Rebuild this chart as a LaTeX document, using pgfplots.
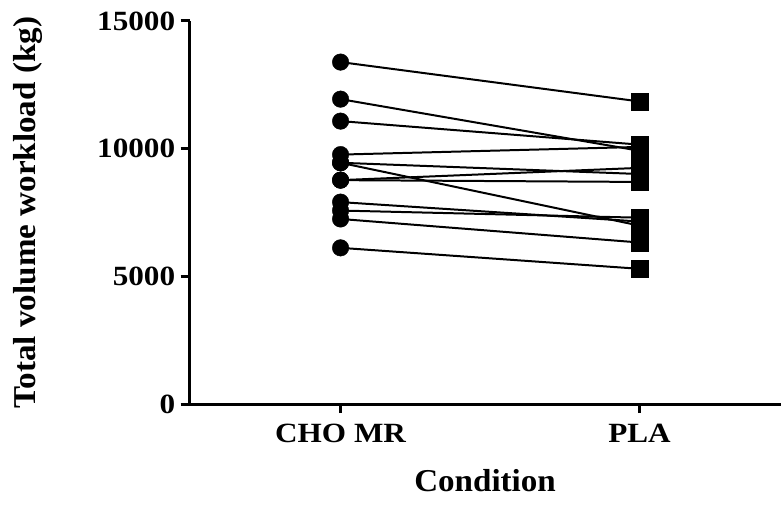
\documentclass[border=0pt]{standalone}
\usepackage{pgfplots}
\pgfplotsset{compat=1.18}
\usepackage{pgfplotstable}
\usepackage{fontspec}
\setmainfont{Liberation Serif}
\newfontfamily\tickfont{Liberation Serif}[FakeStretch=1.12]
\newfontfamily\labelfont{Liberation Serif}[FakeStretch=1.04]

% total volume workload (kg), one row per subject
\pgfplotstableread{
cho    pla
13390  11850
11940  9920
11080  10160
9770   10070
9450   9010
9450   6990
8770   9250
8770   8700
7910   7150
7580   7300
7250   6330
6120   5300
}\workload

\begin{document}
\begin{tikzpicture}
  \begin{axis}[
      scale only axis,
      width=592bp,
      height=384bp,
      xmin=-0.505, xmax=1.472,
      ymin=0, ymax=15000,
      axis x line*=bottom,
      axis y line*=left,
      axis line style={line width=3bp, -},
      tick style={line width=3bp, black},
      tick align=outside,
      major tick length=9bp,
      xtick={0,1},
      xticklabels={CHO MR, PLA},
      ytick={0,5000,10000,15000},
      scaled y ticks=false,
      /pgf/number format/1000 sep={},
      /pgf/number format/assume math mode=true,
      ticklabel style={font=\tickfont\fontsize{28}{30}\selectfont\bfseries},
      xticklabel style={yshift=-7bp},
      yticklabel style={xshift=-2bp},
      xlabel={Condition},
      ylabel={Total volume workload (kg)},
      label style={font=\labelfont\fontsize{32}{34}\selectfont\bfseries},
      xlabel style={at={([yshift=-77bp]axis description cs:0.5,0)}, anchor=center},
      ylabel style={at={([xshift=-162bp]axis description cs:0,0.5)}, anchor=center},
      clip=false,
    ]
    % one line per subject
    \addplot[black, line width=2bp] coordinates {(0,13390) (1,11850)};
    \addplot[black, line width=2bp] coordinates {(0,11940) (1,9920)};
    \addplot[black, line width=2bp] coordinates {(0,11080) (1,10160)};
    \addplot[black, line width=2bp] coordinates {(0,9770) (1,10070)};
    \addplot[black, line width=2bp] coordinates {(0,9450) (1,9010)};
    \addplot[black, line width=2bp] coordinates {(0,9450) (1,6990)};
    \addplot[black, line width=2bp] coordinates {(0,8770) (1,9250)};
    \addplot[black, line width=2bp] coordinates {(0,8770) (1,8700)};
    \addplot[black, line width=2bp] coordinates {(0,7910) (1,7150)};
    \addplot[black, line width=2bp] coordinates {(0,7580) (1,7300)};
    \addplot[black, line width=2bp] coordinates {(0,7250) (1,6330)};
    \addplot[black, line width=2bp] coordinates {(0,6120) (1,5300)};

    \addplot[only marks, mark=*, mark size=8.3bp, black] table[x expr=0, y=cho] {\workload};
    \addplot[only marks, mark=square*, mark size=8.3bp, black] table[x expr=1, y=pla] {\workload};
  \end{axis}
  % fix the page to the reference's frame
  \path (current axis.south west) ++(-190bp,-122bp) rectangle ++(782bp,527bp);
\end{tikzpicture}
\end{document}
